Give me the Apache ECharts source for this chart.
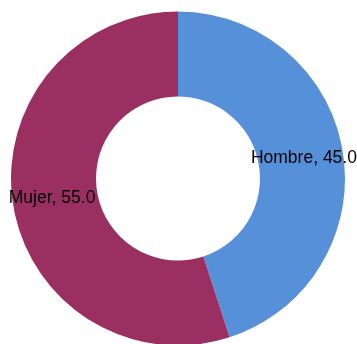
<!DOCTYPE html>
<html>
<head>
<meta charset="utf-8">
<script src="https://cdn.jsdelivr.net/npm/echarts@6/dist/echarts.min.js"></script>
<style>
  html, body { margin: 0; padding: 0; background: #fff; }
  #chart { width: 357px; height: 344px; }
</style>
</head>
<body>
<div id="chart"></div>
<script>
// Share of respondents by sex
const categories = ['Hombre', 'Mujer'];
const values = [45.0, 55.0];
const colors = ['#5690D8', '#9A3062'];

const chart = echarts.init(document.getElementById('chart'), null, { renderer: 'canvas' });

chart.setOption({
  animation: false,
  backgroundColor: '#ffffff',
  series: [{
    type: 'pie',
    center: [178, 178.5],
    radius: [82, 167],
    startAngle: 90,
    clockwise: true,
    avoidLabelOverlap: false,
    label: {
      show: true,
      position: 'inside',
      color: '#000000',
      fontFamily: 'Liberation Sans, Arial, sans-serif',
      fontSize: 17.5,
      formatter: p => p.name + ', ' + p.value.toFixed(1)
    },
    labelLine: { show: false },
    emphasis: { disabled: true },
    data: categories.map((name, i) => ({
      name: name,
      value: values[i],
      itemStyle: { color: colors[i] }
    }))
  }]
});
</script>
</body>
</html>
